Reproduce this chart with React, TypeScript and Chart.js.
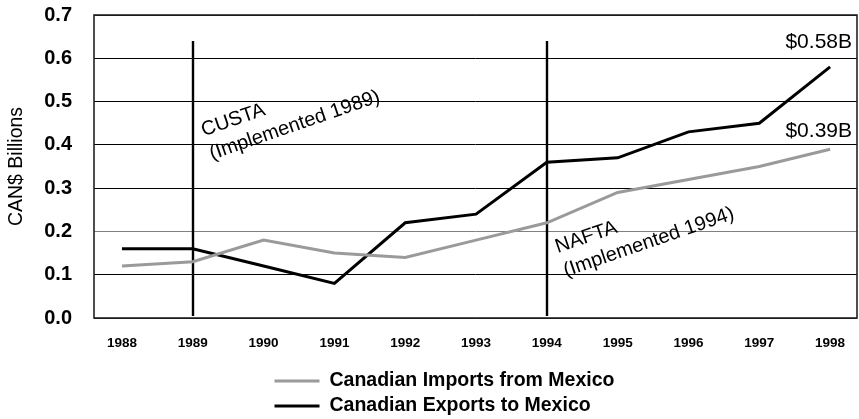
import { useEffect, useRef } from 'react';
import { Chart, registerables } from 'chart.js';

Chart.register(...registerables);

const years = [1988, 1989, 1990, 1991, 1992, 1993, 1994, 1995, 1996, 1997, 1998];
const importsFromMexico = [0.12, 0.13, 0.18, 0.15, 0.14, 0.18, 0.22, 0.29, 0.32, 0.35, 0.39];
const exportsToMexico = [0.16, 0.16, 0.12, 0.08, 0.22, 0.24, 0.36, 0.37, 0.43, 0.45, 0.58];
const seriesNames = ['Canadian Imports from Mexico', 'Canadian Exports to Mexico'];
const seriesColors = ['#9a9a9a', '#000000'];
const yAxisTitle = 'CAN$ Billions';
const yMin = 0;
const yMax = 0.7;
const yStep = 0.1;
const xMin = 1987.605;
const xMax = 1998.38;
const agreementYears = [1989, 1994];
const agreementNames = ['CUSTA', 'NAFTA'];
const agreementNotes = ['(Implemented 1989)', '(Implemented 1994)'];
const agreementTextY = [0.42, 0.15];
const markerTop = 0.64;

const FONT = '"Liberation Sans", Arial, Helvetica, sans-serif';

const decorPlugin = {
  id: 'decor',
  beforeDatasetsDraw(chart: any) {
    const { ctx, chartArea } = chart;
    const xs = chart.scales.x;
    const ys = chart.scales.y;
    ctx.save();
    ctx.strokeStyle = '#222';
    ctx.lineWidth = 1.6;
    ctx.strokeRect(chartArea.left, chartArea.top, chartArea.right - chartArea.left, chartArea.bottom - chartArea.top);
    ctx.strokeStyle = '#000';
    ctx.lineWidth = 2.4;
    agreementYears.forEach((yr) => {
      const x = Math.round(xs.getPixelForValue(yr));
      ctx.beginPath();
      ctx.moveTo(x, ys.getPixelForValue(markerTop));
      ctx.lineTo(x, ys.getPixelForValue(yMin) - 2);
      ctx.stroke();
    });
    ctx.restore();
  },
  afterDatasetsDraw(chart: any) {
    const { ctx, chartArea } = chart;
    const xs = chart.scales.x;
    const ys = chart.scales.y;
    ctx.save();
    ctx.fillStyle = '#000';
    ctx.font = `20px ${FONT}`;
    ctx.textAlign = 'left';
    ctx.textBaseline = 'alphabetic';
    agreementYears.forEach((yr, i) => {
      const x0 = xs.getPixelForValue(yr) + 11;
      const y0 = ys.getPixelForValue(agreementTextY[i]);
      ctx.save();
      ctx.translate(x0, y0);
      ctx.rotate((-19 * Math.PI) / 180);
      ctx.fillText(agreementNames[i], 0, 0);
      ctx.fillText(agreementNotes[i], 0, 25);
      ctx.restore();
    });
    ctx.font = `21px ${FONT}`;
    ctx.textAlign = 'right';
    const offsets = [12, 19];
    [importsFromMexico, exportsToMexico].forEach((arr, i) => {
      const v = arr[arr.length - 1];
      ctx.fillText(`$${v.toFixed(2)}B`, chartArea.right - 5, ys.getPixelForValue(v) - offsets[i]);
    });
    ctx.restore();
  },
  afterDraw(chart: any) {
    const { ctx } = chart;
    ctx.save();
    const left = chart.width / 2 - 155;
    const rows = [chart.height - 38, chart.height - 13];
    ctx.font = `bold 19.5px ${FONT}`;
    ctx.textAlign = 'left';
    ctx.textBaseline = 'middle';
    seriesNames.forEach((name, i) => {
      const y = rows[i];
      ctx.strokeStyle = seriesColors[i];
      ctx.lineWidth = 3;
      ctx.beginPath();
      ctx.moveTo(left, y);
      ctx.lineTo(left + 45, y);
      ctx.stroke();
      ctx.fillStyle = '#000';
      ctx.fillText(name, left + 55, y);
    });
    ctx.restore();
  },
};

export default function App() {
  const ref = useRef<HTMLCanvasElement | null>(null);

  useEffect(() => {
    if (!ref.current) return;
    const chart = new Chart(ref.current, {
      type: 'line',
      data: {
        datasets: [
          {
            label: seriesNames[0],
            data: years.map((yr, i) => ({ x: yr, y: importsFromMexico[i] })),
            borderColor: seriesColors[0],
            backgroundColor: seriesColors[0],
            borderWidth: 3,
            pointRadius: 0,
            tension: 0,
          },
          {
            label: seriesNames[1],
            data: years.map((yr, i) => ({ x: yr, y: exportsToMexico[i] })),
            borderColor: seriesColors[1],
            backgroundColor: seriesColors[1],
            borderWidth: 3,
            pointRadius: 0,
            tension: 0,
          },
        ],
      },
      options: {
        animation: false,
        responsive: true,
        maintainAspectRatio: false,
        layout: { padding: { top: 15, right: 2, bottom: 61, left: 0 } },
        plugins: {
          legend: { display: false },
          tooltip: { enabled: false },
        },
        scales: {
          x: {
            type: 'linear',
            min: xMin,
            max: xMax,
            afterFit: (s: any) => {
              s.height = 40;
            },
            grid: { display: false, drawTicks: true, tickLength: 14, tickColor: 'rgba(0,0,0,0)' },
            border: { display: false },
            ticks: {
              stepSize: 1,
              includeBounds: false,
              padding: 3,
              color: '#000',
              font: { family: FONT, size: 13.5, weight: 'bold' },
              callback: (v: any) => String(v),
            },
          },
          y: {
            min: yMin,
            max: yMax,
            afterFit: (s: any) => {
              s.width = 94;
            },
            grid: {
              drawTicks: true,
              tickLength: 19,
              tickColor: 'rgba(0,0,0,0)',
              color: (c: any) => (Math.abs(c.tick.value - 0.2) < 1e-6 ? '#808080' : '#000'),
              lineWidth: 1,
            },
            border: { display: false },
            title: {
              display: true,
              text: yAxisTitle,
              color: '#000',
              font: { family: FONT, size: 19.5, weight: 'normal' },
              padding: { top: 5, bottom: 0 },
            },
            ticks: {
              stepSize: yStep,
              padding: 3,
              color: '#000',
              font: { family: FONT, size: 20, weight: 'bold' },
              callback: (v: any) => Number(v).toFixed(1),
            },
          },
        },
      } as any,
      plugins: [decorPlugin],
    });
    return () => chart.destroy();
  }, []);

  return (
    <div style={{ position: 'fixed', left: 0, top: 0, width: 859, height: 419, background: '#fff' }}>
      <canvas ref={ref} />
    </div>
  );
}
